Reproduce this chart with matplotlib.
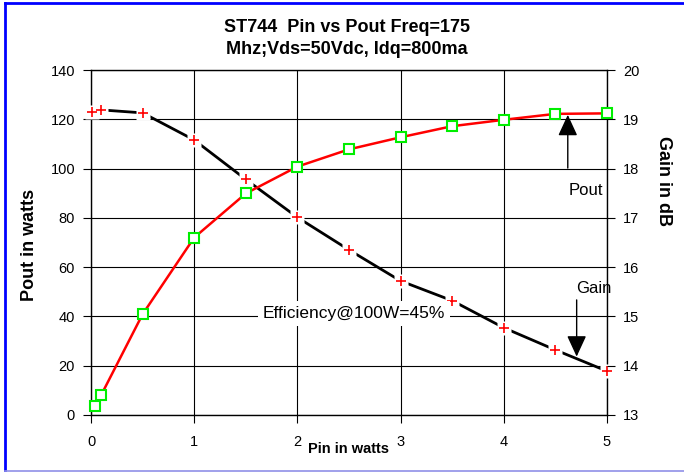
import matplotlib
matplotlib.use("Agg")
import matplotlib.pyplot as plt
from matplotlib.lines import Line2D

plt.rcParams['font.family'] = ['Liberation Sans', 'DejaVu Sans']

# ---- data ----
pin_pout = [0.04, 0.1, 0.5, 1.0, 1.5, 2.0, 2.5, 3.0, 3.5, 4.0, 4.5, 5.0]
pout = [3.6, 8.2, 40.9, 72.0, 89.9, 100.8, 107.8, 112.7, 117.2, 119.8, 122.2, 122.4]

pin_gain = [0.01, 0.1, 0.5, 1.0, 1.5, 2.0, 2.5, 3.0, 3.5, 4.0, 4.5, 5.0]
gain = [19.14, 19.19, 19.13, 18.58, 17.78, 17.01, 16.35, 15.72, 15.32, 14.77, 14.32, 13.89]

x_ticks = [0, 1, 2, 3, 4, 5]
pout_ticks = [0, 20, 40, 60, 80, 100, 120, 140]
gain_ticks = [13, 14, 15, 16, 17, 18, 19, 20]

W, H = 684, 472
fig = plt.figure(figsize=(W / 100, H / 100), dpi=100)

# plot area in pixels: x 91..607, y 70..415
ax = fig.add_axes([91 / W, 1 - 415 / H, (607 - 91) / W, (415 - 70) / H])
ax.set_xlim(0, 5)
ax.set_ylim(0, 140)
ax2 = ax.twinx()
ax2.set_ylim(13, 20)
for s in ax2.spines.values():
    s.set_visible(False)

ax.set_xticks(x_ticks)
ax.set_yticks(pout_ticks)
ax2.set_yticks(gain_ticks)
ax.grid(True, color='black', lw=0.8)
ax.set_axisbelow(True)
for s in ax.spines.values():
    s.set_linewidth(1.0)

ax.tick_params(axis='both', direction='out', length=5.5, width=0.8,
               labelsize=10.5, pad=6)
ax.tick_params(axis='x', pad=9)
ax2.tick_params(axis='y', direction='out', length=5.5, width=0.8,
                labelsize=10.5, pad=6)

# gain series (secondary scale), drawn in ax so that Pout sits on top
gt = ax2.transData
ax.plot(pin_gain, gain, color='black', lw=2.0, transform=gt, zorder=2)
ax.plot(pin_gain, gain, 's', ms=10, mfc='white', mec='none',
        transform=gt, zorder=3, clip_on=False)
ax.plot(pin_gain, gain, '+', ms=7, mew=1.2, color='red',
        transform=gt, zorder=4, clip_on=False)

# Pout series
ax.plot(pin_pout, pout, color='red', lw=1.8, zorder=5)
ax.plot(pin_pout, pout, 's', ms=6.5, mfc='white', mec='#00ee00', mew=1.5,
        zorder=6, clip_on=False)

# annotations
ax.text(2.55, 41.1, 'Efficiency@100W=45%', fontsize=12.5, ha='center',
        va='center', zorder=10,
        bbox=dict(facecolor='white', edgecolor='none', pad=3.5))
ax.text(4.80, 91.3, 'Pout', fontsize=12, ha='center', va='center', zorder=10)
ax.text(4.87, 51.5, 'Gain', fontsize=12, ha='center', va='center', zorder=10)

arrow = dict(arrowstyle='-|>,head_length=1.3,head_width=0.6',
             color='black', lw=1.0, mutation_scale=10,
             shrinkA=0, shrinkB=0)
ax.annotate('', xy=(4.62, 121.8), xytext=(4.62, 100.2),
            arrowprops=arrow, zorder=9)
ax.annotate('', xy=(4.706, 23.7), xytext=(4.706, 46.7),
            arrowprops=arrow, zorder=9)

# titles and axis labels
fig.text(347 / W, 1 - 27 / H, 'ST744  Pin vs Pout Freq=175', fontsize=13,
         fontweight='bold', ha='center', va='center')
fig.text(347 / W, 1 - 50 / H, 'Mhz;Vds=50Vdc, Idq=800ma', fontsize=13,
         fontweight='bold', ha='center', va='center')
fig.text(29.5 / W, 1 - 245 / H, 'Pout in watts', fontsize=13,
         fontweight='bold', rotation=90, ha='center', va='center')
fig.text(663.5 / W, 1 - 181 / H, 'Gain in dB', fontsize=13,
         fontweight='bold', rotation=270, ha='center', va='center')
fig.text(348 / W, 1 - 449 / H, 'Pin in watts', fontsize=10.5,
         fontweight='bold', ha='center', va='center')

# blue frame (left, top) and light bottom edge
fig.add_artist(Line2D([5 / W, 5 / W], [1 - 3 / H, 1 - 470 / H],
                      color='#0000ff', lw=2.0))
fig.add_artist(Line2D([5 / W, 1], [1 - 3 / H, 1 - 3 / H],
                      color='#0000ff', lw=2.0))
fig.add_artist(Line2D([5 / W, 1], [1 - 470.5 / H, 1 - 470.5 / H],
                      color='#9090e8', lw=1.2))

fig.savefig('out.png', dpi=100)
